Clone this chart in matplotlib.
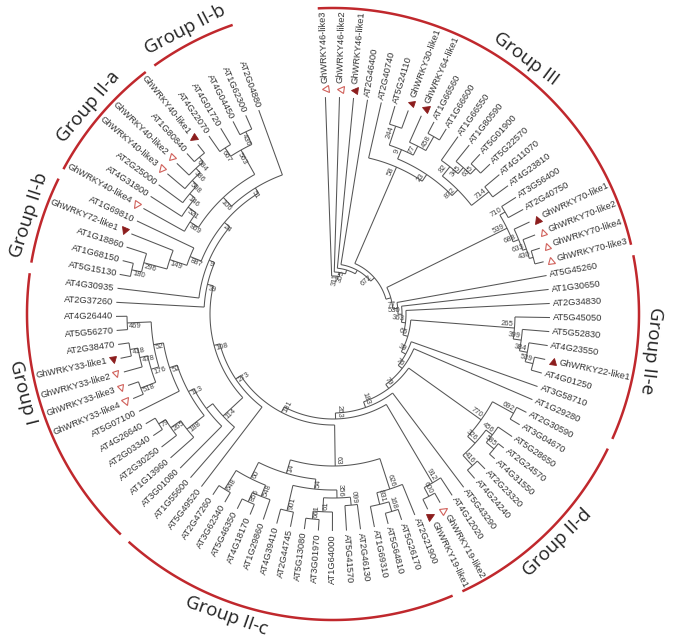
import numpy as np
import matplotlib.pyplot as plt
from matplotlib.markers import MarkerStyle
from matplotlib.transforms import Affine2D

# tip order, clockwise from the top of the circle
leaves = [
    'GhWRKY46-like3', 'GhWRKY46-like2', 'GhWRKY46-like1', 'AT2G46400', 'AT2G40740',
    'AT5G24110', 'GhWRKY30-like1', 'GhWRKY64-like1', 'AT1G66560', 'AT1G66600',
    'AT1G66550', 'AT1G80590', 'AT5G01900', 'AT5G22570', 'AT4G11070', 'AT4G23810',
    'AT3G56400', 'AT2G40750', 'GhWRKY70-like1', 'GhWRKY70-like2', 'GhWRKY70-like4',
    'GhWRKY70-like3', 'AT5G45260', 'AT1G30650', 'AT2G34830', 'AT5G45050', 'AT5G52830',
    'AT4G23550', 'GhWRKY22-like1', 'AT4G01250', 'AT3G58710', 'AT1G29280', 'AT2G30590',
    'AT3G04670', 'AT5G28650', 'AT2G24570', 'AT4G31550', 'AT2G23320', 'AT4G24240',
    'AT5G43290', 'AT4G12020', 'GhWRKY19-like2', 'GhWRKY19-like1', 'AT2G21900',
    'AT5G26170', 'AT5G64810', 'AT1G69310', 'AT2G46130', 'AT5G41570', 'AT1G64000',
    'AT3G01970', 'AT5G13080', 'AT2G44745', 'AT4G39410', 'AT1G29860', 'AT4G18170',
    'AT5G46350', 'AT3G62340', 'AT2G47260', 'AT5G49520', 'AT1G55600', 'AT3G01080',
    'AT1G13960', 'AT2G30250', 'AT2G03340', 'AT4G26640', 'AT5G07100', 'GhWRKY33-like4',
    'GhWRKY33-like3', 'GhWRKY33-like2', 'GhWRKY33-like1', 'AT2G38470', 'AT5G56270',
    'AT4G26440', 'AT2G37260', 'AT4G30935', 'AT5G15130', 'AT1G68150', 'AT1G18860',
    'GhWRKY72-like1', 'AT1G69810', 'GhWRKY40-like4', 'AT4G31800', 'AT2G25000',
    'GhWRKY40-like3', 'GhWRKY40-like2', 'AT1G80840', 'GhWRKY40-like1', 'AT4G22070',
    'AT4G01720', 'AT4G04450', 'AT1G62300', 'AT2G04880',
]

filled = ['GhWRKY46-like1', 'GhWRKY30-like1', 'GhWRKY64-like1', 'GhWRKY70-like1',
          'GhWRKY22-like1', 'GhWRKY19-like1', 'GhWRKY33-like1', 'GhWRKY72-like1',
          'GhWRKY40-like1']
hollow = ['GhWRKY46-like3', 'GhWRKY46-like2', 'GhWRKY70-like2', 'GhWRKY70-like4',
          'GhWRKY70-like3', 'GhWRKY19-like2', 'GhWRKY33-like4', 'GhWRKY33-like3',
          'GhWRKY33-like2', 'GhWRKY40-like4', 'GhWRKY40-like3', 'GhWRKY40-like2']

group_names = ['Group III', 'Group II-e', 'Group II-d', 'Group II-c', 'Group I',
               'Group II-b', 'Group II-a', 'Group II-b']
group_first = ['GhWRKY46-like3', 'AT5G45260', 'AT2G30590', 'AT2G21900', 'AT3G01080',
               'AT5G15130', 'GhWRKY40-like4', 'AT4G22070']
group_last = ['GhWRKY70-like3', 'AT1G29280', 'GhWRKY19-like1', 'AT1G55600', 'AT4G30935',
              'AT1G69810', 'GhWRKY40-like1', 'AT2G04880']

# clades, newick-like: (children)bootstrap:depth   (depth = node height, tips at 217)
clade58 = ("(AT2G40740,(((AT5G24110,GhWRKY30-like1)244:198,(GhWRKY64-like1,"
           "(AT1G66560,AT1G66600)458:204)77:188)9:178,((AT1G66550,(AT1G80590,"
           "(AT5G01900,AT5G22570)635:204)345:196)82:188,(AT4G11070,AT4G23810)714:198)"
           "872:176)23:168)58:160")
clade539 = ("((AT3G56400,AT2G40750)710:200,(GhWRKY70-like1,(GhWRKY70-like2,"
            "(GhWRKY70-like4,GhWRKY70-like3)430:208)633:204)688:200)539:194")
clade265 = ("(AT5G45050,(AT5G52830,(AT4G23550,(GhWRKY22-like1,AT4G01250)539:206)"
            "384:198)399:190)265:182")
clade770 = ("((AT2G30590,AT3G04670)692:206,((AT5G28650,(AT2G24570,AT4G31550)585:210)"
            "456:200,(AT2G23320,AT4G24240)416:206)326:192)770:182")
clade912 = "(AT4G12020,(GhWRKY19-like2,GhWRKY19-like1)600:206)912:196"
c_right = "(AT2G21900,((AT5G26170,AT5G64810)168:206,AT1G69310)831:196)626:184"
c_mid = ("(((AT2G46130,AT5G41570)099:192,(AT1G64000,(AT3G01970,AT5G13080)661:206)"
         "61:198)356:184,(AT2G44745,AT4G39410)901:202)54:176")
c_left = "((AT1G29860,(AT4G18170,AT5G46350)856:206)548:196,(AT3G62340,AT2G47260)648:206)60:184"
clade63 = f"({c_right},({c_mid},{c_left})14:166)63:152"
in188 = "(AT1G13960,(AT2G30250,(AT2G03340,AT4G26640)79:206)265:198)188:186"
in52 = ("(AT5G07100,(((GhWRKY33-like4,GhWRKY33-like3)518:206,(GhWRKY33-like2,"
        "(GhWRKY33-like1,AT2G38470)418:206)478:198)176:190,(AT5G56270,AT4G26440)469:206)"
        "52:182)52:172")
clade114 = f"(AT1G55600,(AT3G01080,({in188},{in52})113:164):158)114:150"
clade887 = ("((((AT5G15130,AT1G68150)180:206,AT1G18860)296:196,GhWRKY72-like1)149:172,"
            "AT1G69810)887:154")
cladeIIa = ("(GhWRKY40-like4,(AT4G31800,(AT2G25000,(GhWRKY40-like3,(GhWRKY40-like2,"
            "(AT1G80840,GhWRKY40-like1)684:206)386:200)508:194)146:187)521:180)869:170")
cladeIIb = "((AT4G22070,AT4G01720)667:198,(AT4G04450,AT1G62300)436:202)563:188"
clade51 = f"(({cladeIIa},{cladeIIb})106:160,AT2G04880)51:148"
tail = f"({clade887},{clade51})24:142"

# ladder-like backbone from the root outwards
bb_depth = [38, 42, 46, 50, 55, 60, 65, 69, 73, 78, 83, 88, 93, 99, 105, 111, 117, 123, 129, 135]
bb_label = ['', '311', '355', '', '672', '', '77', '530', '363', '65', '39', '76', '79',
            '183', '263', '181', '273', '108', '39', '9']
bb_side = ['GhWRKY46-like3', 'GhWRKY46-like2', 'GhWRKY46-like1', 'AT2G46400', clade58,
           clade539, 'AT5G45260', 'AT1G30650', 'AT2G34830', clade265, 'AT3G58710',
           'AT1G29280', clade770, 'AT5G43290', clade912, clade63, 'AT5G49520', clade114,
           'AT2G37260', 'AT4G30935']

newick = tail
for d, lab, side in reversed(list(zip(bb_depth, bb_label, bb_side))):
    newick = f"({side},{newick}){lab}:{d}"


def parse(s):
    pos = 0

    def node():
        nonlocal pos
        if s[pos] == '(':
            pos += 1
            kids = [node()]
            while s[pos] == ',':
                pos += 1
                kids.append(node())
            pos += 1
            j = pos
            while pos < len(s) and s[pos] not in ',)':
                pos += 1
            lab, dep = s[j:pos].split(':')
            return {'label': lab, 'depth': float(dep), 'kids': kids}
        j = pos
        while pos < len(s) and s[pos] not in ',)':
            pos += 1
        return {'name': s[j:pos]}
    return node()


tree = parse(newick)

cx, cy = 333, 314
r_leaf, r_mark, r_gh, r_ring = 217, 225, 231, 306
a0 = 92.0
step = 342.0 / (len(leaves) - 1)
theta = {name: a0 - i * step for i, name in enumerate(leaves)}

order = []


def layout(n):
    if 'name' in n:
        order.append(n['name'])
        n['ang'], n['r'] = theta[n['name']], r_leaf
    else:
        for k in n['kids']:
            layout(k)
        n['ang'] = (n['kids'][0]['ang'] + n['kids'][-1]['ang']) / 2
        n['r'] = n['depth']


layout(tree)
assert order == leaves, [(a, b) for a, b in zip(order, leaves) if a != b][:3]


def xy(r, a):
    t = np.radians(a)
    return cx + r * np.cos(t), cy - r * np.sin(t)


def upright(a):
    a = (a + 180) % 360 - 180
    return -90 < a <= 95


fig = plt.figure(figsize=(6.85, 6.43), dpi=100)
ax = fig.add_axes([0, 0, 1, 1])
ax.set_xlim(0, 685)
ax.set_ylim(643, 0)
ax.axis('off')

lc, lw = '#555555', 0.75


def draw(n, pr):
    a = n['ang']
    if pr is not None:
        (x1, y1), (x2, y2) = xy(pr, a), xy(n['r'], a)
        ax.plot([x1, x2], [y1, y2], color=lc, lw=lw, solid_capstyle='butt')
    if 'kids' not in n:
        return
    t = np.linspace(n['kids'][0]['ang'], n['kids'][-1]['ang'], 40)
    ax.plot(*xy(n['r'], t), color=lc, lw=lw, solid_capstyle='butt')
    for k in n['kids']:
        draw(k, n['r'])
    if n['label']:
        px, py = xy(n['r'] - 1.5, a)
        if upright(a):
            rot, ha, va = a, 'right', 'bottom'
        else:
            rot, ha, va = a + 180, 'left', 'top'
        ax.text(px, py, n['label'], rotation=rot, rotation_mode='anchor', ha=ha, va=va,
                fontsize=5.5, color='#444444', family='Liberation Sans')


draw(tree, None)

# tip labels and markers
for name in leaves:
    a = theta[name]
    gh = name in filled or name in hollow
    px, py = xy(r_gh if gh else r_leaf + 3, a)
    if upright(a):
        rot, ha = a, 'left'
    else:
        rot, ha = a + 180, 'right'
    ax.text(px, py, name, rotation=rot, rotation_mode='anchor', ha=ha, va='center',
            fontsize=6.7, color='#333333', family='Liberation Sans')
    if gh:
        m = MarkerStyle('^', transform=Affine2D().rotate_deg(a))
        mx, my = xy(r_mark, a)
        if name in filled:
            ax.plot(mx, my, marker=m, ms=5, mfc='#8c1d1d', mec='#8c1d1d', mew=0.6, ls='none')
        else:
            ax.plot(mx, my, marker=m, ms=5, mfc='white', mec='#d0605a', mew=0.8, ls='none')

# group rings; a few titles sit off the middle of their arc
title_shift = {'Group II-c': -10, 'Group I': -5}
for name, f, l in zip(group_names, group_first, group_last):
    a1 = theta[f] + step / 2 - 1.0
    a2 = theta[l] - step / 2 + 1.0
    t = np.linspace(a1, a2, 120)
    ax.plot(*xy(r_ring, t), color='#c0282d', lw=1.8, solid_capstyle='butt')
    am = (a1 + a2) / 2 + title_shift.get(name, 0)
    rot = am + 90 if np.sin(np.radians(am)) < -0.2 else am - 90
    ax.text(*xy(r_ring + 14, am), name, rotation=rot, rotation_mode='anchor',
            ha='center', va='center', fontsize=13.5, family='Open Sans', color='#222222')

fig.savefig('out.png', dpi=100)
